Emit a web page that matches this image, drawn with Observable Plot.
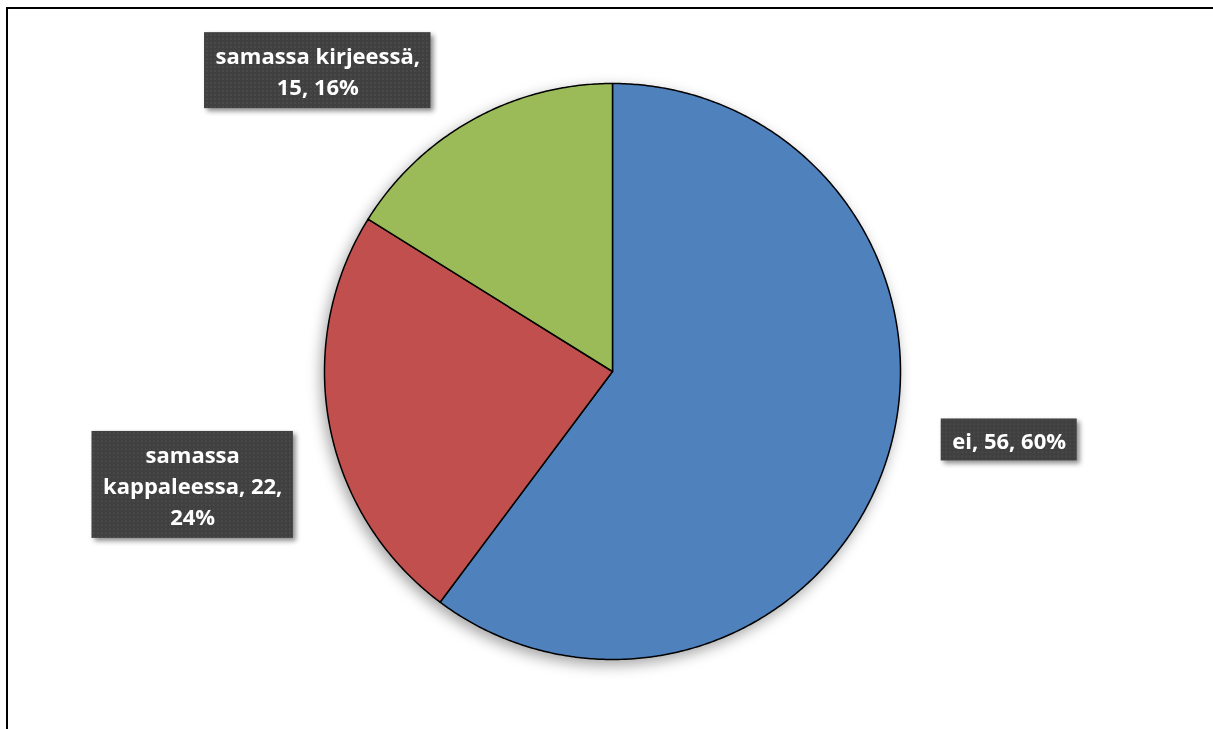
<!DOCTYPE html>
<html>
<head>
<meta charset="utf-8">
<script src="https://cdn.jsdelivr.net/npm/d3@7"></script>
<script src="https://cdn.jsdelivr.net/npm/@observablehq/plot@0.6"></script>
<style>
  html, body { margin: 0; padding: 0; background: #fff; overflow: hidden; }
  #wrap { position: relative; width: 1213px; height: 729px; overflow: hidden; }
  #frame { position: absolute; left: 6px; top: 7px; width: 1400px; height: 900px;
           border-left: 2px solid #000; border-top: 2px solid #000; box-sizing: border-box; }
  #chart { position: absolute; left: 0; top: 0; }
</style>
</head>
<body>
<div id="wrap"><div id="frame"></div><div id="chart"></div></div>
<script>
// ---- data ----
const categories = ["ei", "samassa kappaleessa", "samassa kirjeessä"];
const values = [56, 22, 15];
const percents = [60, 24, 16];
// label text, one entry per shown line
const labelLines = [
  ["ei, 56, 60%"],
  ["samassa", "kappaleessa, 22,", "24%"],
  ["samassa kirjeessä,", "15, 16%"]
];

// ---- layout / style ----
const colors = ["#4F81BD", "#C0504D", "#9BBB59"];
const R = 288; // pie radius in px
// label placement: radius factor along the slice's mid-angle plus pixel offsets
const labelLayout = [
  {r: 1.25, dx: 55, dy: -46},
  {r: 1.25, dx: -66, dy: 46},
  {r: 1.25, dx: -120, dy: 13}
];
const FONT = "'Open Sans', Lato, sans-serif";
const FONT_SIZE = 22;

// ---- build slices from data (clockwise from 12 o'clock) ----
const total = d3.sum(values);
let acc = 0;
const slicePts = [];
const labels = [];
categories.forEach((cat, i) => {
  const a0 = acc / total * 2 * Math.PI;
  acc += values[i];
  const a1 = acc / total * 2 * Math.PI;
  slicePts.push({cat, x: 0, y: 0});
  const n = Math.max(2, Math.ceil((a1 - a0) / (Math.PI / 360)));
  for (let k = 0; k <= n; k++) {
    const a = a0 + (a1 - a0) * k / n;
    slicePts.push({cat, x: Math.sin(a), y: Math.cos(a)});
  }
  const mid = (a0 + a1) / 2;
  const L = labelLayout[i];
  labels.push({
    cat,
    text: labelLines[i].join("\n"),
    x: Math.sin(mid) * L.r + L.dx / R,
    y: Math.cos(mid) * L.r - L.dy / R
  });
});

const svg = Plot.plot({
  width: 1213, height: 729, margin: 0,
  style: {background: "transparent", overflow: "visible"},
  x: {domain: [-1, 1], range: [612 - R, 612 + R], axis: null},
  y: {domain: [-1, 1], range: [371 + R, 371 - R], axis: null},
  color: {domain: categories, range: colors},
  marks: [
    Plot.line(slicePts, {x: "x", y: "y", z: "cat", fill: "cat", stroke: "#000",
      strokeWidth: 1.5, strokeLinejoin: "round", curve: "linear-closed"}),
    Plot.text(labels, {x: "x", y: "y", text: "text",
      fill: "#fff", fontWeight: "bold", fontSize: FONT_SIZE, lineHeight: 31 / FONT_SIZE,
      fontFamily: FONT, textAnchor: "middle", lineAnchor: "middle"})
  ]
});
document.getElementById("chart").appendChild(svg);

// ---- decorations: pattern, shadows, label boxes ----
const ns = "http://www.w3.org/2000/svg";
const defs = document.createElementNS(ns, "defs");
defs.innerHTML = `
  <pattern id="dots" width="4" height="4" patternUnits="userSpaceOnUse">
    <rect width="4" height="4" fill="#3f3f3f"/>
    <rect x="1" y="1" width="1.4" height="1.4" fill="#555"/>
  </pattern>
  <filter id="pieShadow" x="-20%" y="-20%" width="140%" height="140%">
    <feDropShadow dx="-3" dy="5" stdDeviation="7" flood-color="#000" flood-opacity="0.35"/>
  </filter>
  <filter id="boxShadow" x="-20%" y="-20%" width="140%" height="150%">
    <feDropShadow dx="3" dy="3" stdDeviation="2.5" flood-color="#000" flood-opacity="0.45"/>
  </filter>`;
svg.insertBefore(defs, svg.firstChild);

const lineG = svg.querySelector('g[aria-label="line"]');
if (lineG) lineG.setAttribute("filter", "url(#pieShadow)");

const textG = svg.querySelector('g[aria-label="text"]');
if (textG) {
  const boxG = document.createElementNS(ns, "g");
  boxG.setAttribute("filter", "url(#boxShadow)");
  textG.parentNode.insertBefore(boxG, textG);
  const padX = 11, padY = 6;
  textG.querySelectorAll("text").forEach((t, i) => {
    const b = t.getBBox();
    const extra = labelLines[i] && labelLines[i].length > 1 ? 1.5 : 0;
    const tr = t.getAttribute("transform");
    const r = document.createElementNS(ns, "rect");
    r.setAttribute("x", b.x - padX);
    r.setAttribute("y", b.y - padY - extra);
    r.setAttribute("width", b.width + 2 * padX);
    r.setAttribute("height", b.height + 2 * padY + 2 * extra);
    r.setAttribute("fill", "url(#dots)");
    if (tr) r.setAttribute("transform", tr);
    boxG.appendChild(r);
  });
}
</script>
</body>
</html>
